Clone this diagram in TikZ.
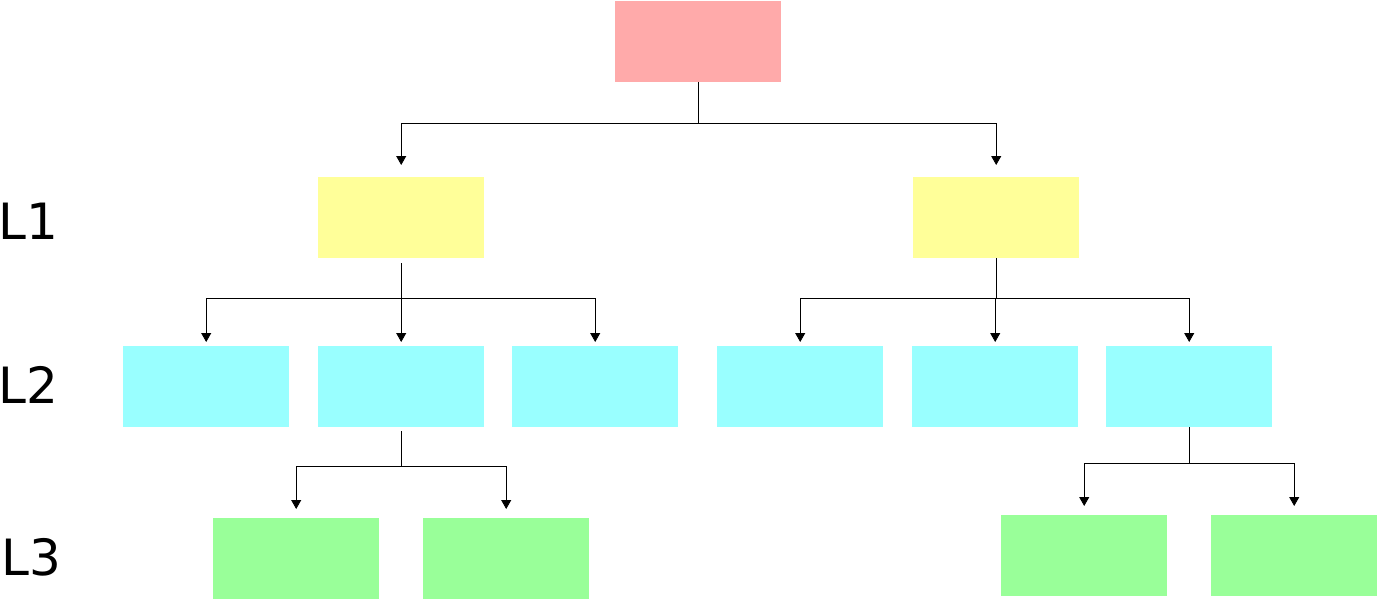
\documentclass[tikz,border=0pt]{standalone}
\usepackage{fontspec}
\setmainfont{DejaVu Sans}
\usetikzlibrary{arrows.meta}
\definecolor{rootc}{HTML}{FFAAAA}
\definecolor{yelc}{HTML}{FFFF99}
\definecolor{cyac}{HTML}{99FFFF}
\definecolor{grnc}{HTML}{99FF99}
\tikzset{
  box/.style={rectangle, minimum width=166pt, minimum height=81pt, inner sep=0pt, draw=none, anchor=north west},
  rootbox/.style={box, fill=rootc},
  l1box/.style={box, fill=yelc},
  l2box/.style={box, fill=cyac},
  l3box/.style={box, fill=grnc},
  conn/.style={draw=black, line width=0.8pt, -{Triangle[width=10pt,length=9pt]}},
  lbl/.style={font=\fontsize{50}{60}\selectfont, inner sep=0pt, anchor=base west}
}
\begin{document}
\begin{tikzpicture}[x=1pt,y=-1pt]
\useasboundingbox (0,0) rectangle (1378,600);
% boxes
\node[rootbox] (root) at (615,1) {};
\node[l1box] (a) at (318,177) {};
\node[l1box] (b) at (913,177) {};
\node[l2box] (a1) at (123,346) {};
\node[l2box] (a2) at (318,346) {};
\node[l2box] (a3) at (512,346) {};
\node[l2box] (b1) at (717,346) {};
\node[l2box] (b2) at (912,346) {};
\node[l2box] (b3) at (1106,346) {};
\node[l3box] (c1) at (213,518) {};
\node[l3box] (c2) at (423,518) {};
\node[l3box] (d1) at (1001,515) {};
\node[l3box] (d2) at (1211,515) {};
% labels
\node[lbl] (lab1) at (-2,239) {L1};
\node[lbl] (lab2) at (-2,403) {L2};
\node[lbl] (lab3) at (1,575) {L3};
% connectors
\foreach \c in {a,b}
  \draw[conn, shorten >=12pt] (root.south) -- ++(0,41) -| (\c.north);
\foreach \c in {a1,a2,a3}
  \draw[conn, shorten >=4pt, shorten <=5pt] (a.south) -- ++(0,40) -| (\c.north);
\foreach \c in {b1,b2,b3}
  \draw[conn, shorten >=4pt] (b.south) -- ++(0,40) -| (\c.north);
\foreach \c in {c1,c2}
  \draw[conn, shorten >=9pt, shorten <=4pt] (a2.south) -- ++(0,39) -| (\c.north);
\foreach \c in {d1,d2}
  \draw[conn, shorten >=9pt] (b3.south) -- ++(0,36) -| (\c.north);
\end{tikzpicture}
\end{document}
